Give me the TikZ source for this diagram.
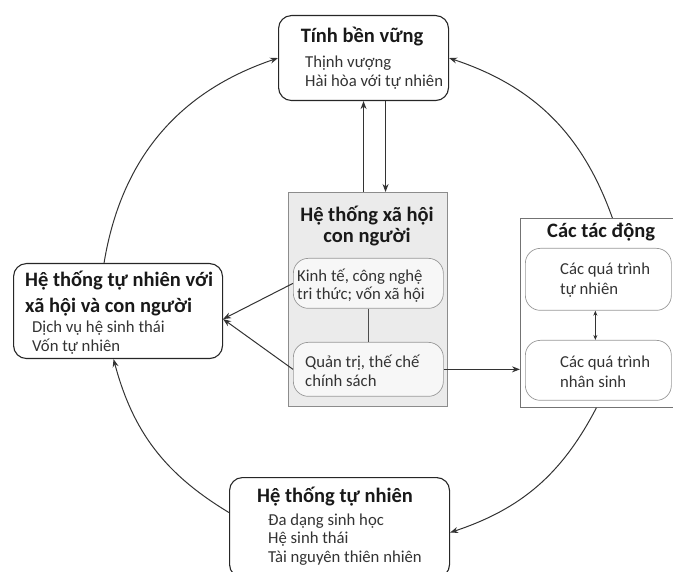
\documentclass[tikz,border=0pt]{standalone}
\usepackage{fontspec}
\setmainfont{Carlito}
\usetikzlibrary{arrows.meta}
\tikzset{
  hop/.style={draw=black!85,line width=1.1pt,rounded corners=13pt,fill=white,anchor=north west},
  khung/.style={draw=black!45,line width=0.8pt,anchor=north west},
  o/.style={draw=black!40,line width=0.7pt,rounded corners=15pt,anchor=north west},
  tieude/.style={font=\fontsize{20.5}{24}\selectfont\bfseries,text=black!90,inner sep=0pt},
  noidung/.style={font=\fontsize{16.7}{20}\selectfont,text=black!80,inner sep=0pt,anchor=base west},
  mui/.style={-{Stealth[length=8pt,width=6pt]},line width=1pt,draw=black!80},
}
\begin{document}
\begin{tikzpicture}[x=1pt,y=-1pt]
\clip (0,0) rectangle (673,572);
% cac khung
\node[hop,minimum width=170pt,minimum height=85pt] (benvung) at (278,15) {};
\node[hop,minimum width=209pt,minimum height=95pt] (tnxh) at (13,263) {};
\node[hop,minimum width=220pt,minimum height=100pt] (tunhien) at (229,477) {};
\node[khung,fill=black!8,minimum width=159pt,minimum height=214pt] (hxh) at (288,192) {};
\node[o,fill=black!3,minimum width=150pt,minimum height=50pt] (kinhte) at (293,258) {};
\node[o,fill=black!3,minimum width=150pt,minimum height=54pt] (quantri) at (293,342) {};
\node[khung,fill=white,draw=black!55,minimum width=170pt,minimum height=189pt] (tacdong) at (520,218) {};
\node[o,fill=white,minimum width=146pt,minimum height=62pt] (qttn) at (525,248) {};
\node[o,fill=white,minimum width=146pt,minimum height=60pt] (qtns) at (525,340) {};
% chu
\node[tieude,anchor=base] (t1) at (362,43) {Tính bền vững};
\node[noidung] (t1a) at (305,68) {Thịnh vượng};
\node[noidung] (t1b) at (305,87) {Hài hòa với tự nhiên};
\node[tieude,anchor=base west] (t2) at (25,287) {Hệ thống tự nhiên với};
\node[tieude,anchor=base west] (t2x) at (25,313) {xã hội và con người};
\node[noidung] (t2a) at (32,333) {Dịch vụ hệ sinh thái};
\node[noidung] (t2b) at (32,352) {Vốn tự nhiên};
\node[tieude,anchor=base] (t3) at (367,222) {Hệ thống xã hội};
\node[tieude,anchor=base] (t3x) at (367,243) {con người};
\node[noidung] (t3a) at (297,282) {Kinh tế, công nghệ};
\node[noidung] (t3b) at (297,300) {tri thức; vốn xã hội};
\node[noidung] (t3c) at (305,368) {Quản trị, thế chế};
\node[noidung] (t3d) at (305,387) {chính sách};
\node[tieude,anchor=base west] (t4) at (547,238) {Các tác động};
\node[noidung] (t4a) at (560,275) {Các quá trình};
\node[noidung] (t4b) at (560,295) {tự nhiên};
\node[noidung] (t4c) at (560,368) {Các quá trình};
\node[noidung] (t4d) at (560,388) {nhân sinh};
\node[tieude,anchor=base west] (t5) at (257,502) {Hệ thống tự nhiên};
\node[noidung] (t5a) at (268,525) {Đa dạng sinh học};
\node[noidung] (t5b) at (268,543) {Hệ sinh thái};
\node[noidung] (t5c) at (268,562) {Tài nguyên thiên nhiên};
% vong ngoai
\draw[mui] ([xshift=-14pt]tnxh.north) to[bend left=31] (benvung.west);
\draw[mui] ([xshift=7pt]tacdong.north) to[bend right=26] (benvung.east);
\draw[mui] ([xshift=-9pt]tacdong.south) to[bend left=22] ([yshift=-5pt]tunhien.east);
\draw[mui] ([yshift=15pt]tunhien.west) to[bend left=22] ([xshift=-4.5pt]tnxh.south);
% ben trong
\draw[mui] (benvung.south |- hxh.north) -- (benvung.south);
\draw[mui] ([xshift=22pt]benvung.south) -- ([xshift=22pt]benvung.south |- hxh.north);
\draw[mui] (kinhte.west) -- ([yshift=-8pt]tnxh.east);
\draw[mui] (quantri.west) -- ([yshift=-8pt]tnxh.east);
\draw[mui] (quantri.east) -- (quantri.east -| tacdong.west);
\draw[line width=0.9pt,draw=black!70] (kinhte.south) -- (quantri.north);
\draw[{Stealth[length=5pt,width=4pt]}-{Stealth[length=5pt,width=4pt]},line width=0.8pt,draw=black!80] ([xshift=-3pt]qttn.south) -- ([xshift=-3pt]qtns.north);
\end{tikzpicture}
\end{document}
